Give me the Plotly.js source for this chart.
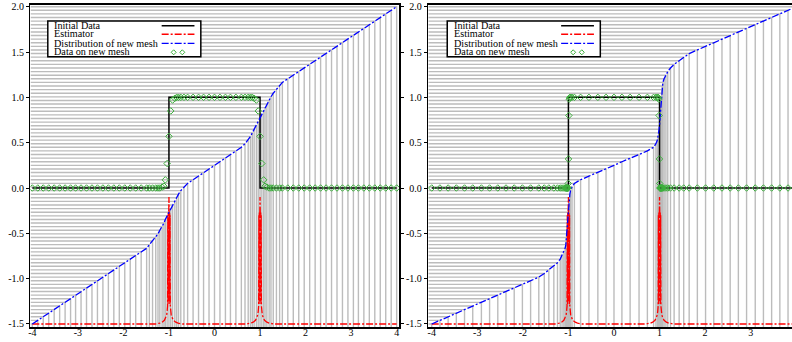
<!DOCTYPE html>
<html>
<head>
<meta charset="utf-8">
<script src="https://cdn.plot.ly/plotly-3.0.1.min.js"></script>
<style>html,body{margin:0;padding:0;background:#fff;}#chart{width:792px;height:342px;}</style>
</head>
<body>
<div id="chart"></div>
<script>
// computational coordinate of each mesh node (shared by both panels)
const xiNodes = [-1.5,-1.4602,-1.4205,-1.3807,-1.3409,-1.3011,-1.2614,-1.2216,-1.1818,-1.1420,-1.1023,-1.0625,-1.0227,-0.9830,-0.9432,-0.9034,-0.8636,-0.8239,-0.7841,-0.7443,-0.7045,-0.6648,-0.6250,-0.5852,-0.5455,-0.5057,-0.4659,-0.4261,-0.3864,-0.3466,-0.3068,-0.2670,-0.2273,-0.1875,-0.1477,-0.1080,-0.0682,-0.0284,0.0114,0.0511,0.0909,0.1307,0.1705,0.2102,0.2500,0.2898,0.3295,0.3693,0.4091,0.4489,0.4886,0.5284,0.5682,0.6080,0.6477,0.6875,0.7273,0.7670,0.8068,0.8466,0.8864,0.9261,0.9659,1.0057,1.0455,1.0852,1.1250,1.1648,1.2045,1.2443,1.2841,1.3239,1.3636,1.4034,1.4432,1.4830,1.5227,1.5625,1.6023,1.6420,1.6818,1.7216,1.7614,1.8011,1.8409,1.8807,1.9205,1.9602,2.0];

// physical mesh node positions, left panel
const meshXLeft = [-4.00,-3.88,-3.76,-3.64,-3.52,-3.40,-3.28,-3.16,-3.05,-2.93,-2.81,-2.69,-2.57,-2.45,-2.33,-2.21,-2.09,-1.97,-1.85,-1.73,-1.61,-1.49,-1.43,-1.36,-1.29,-1.24,-1.20,-1.15,-1.11,-1.08,-1.04,-1.00,-0.96,-0.92,-0.87,-0.83,-0.79,-0.74,-0.67,-0.59,-0.47,-0.35,-0.24,-0.12,0.00,0.12,0.24,0.35,0.47,0.59,0.67,0.74,0.79,0.83,0.87,0.92,0.96,1.00,1.04,1.08,1.11,1.15,1.20,1.24,1.29,1.36,1.43,1.49,1.61,1.73,1.85,1.97,2.09,2.21,2.33,2.45,2.57,2.69,2.81,2.93,3.05,3.16,3.28,3.40,3.52,3.64,3.76,3.88,4.00];
// physical mesh node positions, right panel
const meshXRight = [-4.00,-3.82,-3.64,-3.46,-3.28,-3.10,-2.91,-2.73,-2.55,-2.37,-2.19,-2.01,-1.83,-1.65,-1.53,-1.43,-1.32,-1.24,-1.18,-1.14,-1.10,-1.073,-1.057,-1.051,-1.045,-1.039,-1.033,-1.027,-1.021,-1.015,-1.012,-1.008,-1.004,-0.998,-0.990,-0.982,-0.969,-0.953,-0.921,-0.869,-0.733,-0.550,-0.354,-0.174,0.00,0.174,0.354,0.550,0.733,0.869,0.921,0.953,0.969,0.982,0.990,0.998,1.004,1.008,1.012,1.015,1.021,1.027,1.033,1.039,1.045,1.051,1.057,1.073,1.10,1.14,1.18,1.24,1.32,1.43,1.53,1.65,1.83,2.01,2.19,2.37,2.55,2.73,2.91,3.10,3.28,3.46,3.64,3.82,4.00];

// data on new mesh
const dataLeft = [0,0,0,0,0,0,0,0,0,0,0,0,0,0,0,0,0,0,0,0,0,0,0,0,0,0,0,0.01,0.02,0.09,0.27,0.57,0.85,0.97,0.99,1,1,1,1,1,1,1,1,1,1,1,1,1,1,1,1,1,1,1,0.99,0.97,0.85,0.57,0.27,0.09,0.02,0.01,0,0,0,0,0,0,0,0,0,0,0,0,0,0,0,0,0,0,0,0,0,0,0,0,0,0,0];
const dataRight = [0,0,0,0,0,0,0,0,0,0,0,0,0,0,0,0,0,0,0,0,0,0,0,0,0,0,0,0,0,0,0,0,0.05,0.32,0.80,0.98,1,1,1,1,1,1,1,1,1,1,1,1,1,1,1,1,1,0.98,0.80,0.32,0.05,0,0,0,0,0,0,0,0,0,0,0,0,0,0,0,0,0,0,0,0,0,0,0,0,0,0,0,0,0,0,0,0];

// initial data (step)
const initX = [-4, -1, -1, 1, 1, 4];
const initY = [0, 0, 1, 1, 0, 0];

// estimator
const estX = [-4.00,-1.30,-1.20,-1.15,-1.10,-1.07,-1.05,-1.04,-1.03,-1.025,-1.02,-1.015,-1.01,-1.005,-1.00,-0.995,-0.99,-0.985,-0.98,-0.975,-0.97,-0.96,-0.95,-0.93,-0.90,-0.85,-0.80,-0.70,0.70,0.80,0.85,0.90,0.93,0.95,0.96,0.97,0.975,0.98,0.985,0.99,0.995,1.00,1.005,1.01,1.015,1.02,1.025,1.03,1.04,1.05,1.07,1.10,1.15,1.20,1.30,4.00];
const estY = [-1.50,-1.50,-1.49,-1.48,-1.46,-1.43,-1.40,-1.36,-1.30,-0.30,-1.28,-0.27,-1.25,-0.28,-0.10,-0.28,-1.25,-0.27,-1.28,-0.30,-1.30,-1.36,-1.40,-1.43,-1.46,-1.48,-1.49,-1.50,-1.50,-1.49,-1.48,-1.46,-1.43,-1.40,-1.36,-1.30,-0.30,-1.28,-0.27,-1.25,-0.28,-0.10,-0.28,-1.25,-0.27,-1.28,-0.30,-1.30,-1.36,-1.40,-1.43,-1.46,-1.48,-1.49,-1.50,-1.50];

const xTickVals = [-4,-3,-2,-1,0,1,2,3,4];
const xTickText = ['-4','-3','-2','-1','0','1','2','3','4'];
const yTickVals = [-1.5,-1,-0.5,0,0.5,1,1.5,2];
const yTickText = ['-1.5','-1.0','-0.5','0.0','0.5','1.0','1.5','2.0'];

const legendLabels = ['Initial Data','Estimator','Distribution of new mesh','Data on new mesh'];

// ---------- styling / layout ----------
const FONT = 'Liberation Serif, Times New Roman, serif';
const rangeY = [-1.5386, 2.022];
const rangeXL = [-4.04, 4.055];
const rangeXR = [-4.075, 3.907];
const GRAY = '#bcbcbc';
const GREEN = 'rgb(60,175,60)';
const DASH = '7px,2px,2px,2px';

function meshLines(mx, xStart, yStart) {
  const gx = [], gy = [];
  for (let i = 0; i < mx.length; i++) {
    gx.push(xStart, mx[i], mx[i], null);
    gy.push(xiNodes[i], xiNodes[i], yStart, null);
  }
  return {gx, gy};
}

function panelTraces(mx, data, xa, ya, xStart) {
  const g = meshLines(mx, xStart, rangeY[0]);
  return [
    {x: g.gx, y: g.gy, xaxis: xa, yaxis: ya, mode: 'lines', line: {color: GRAY, width: 1.4}, hoverinfo: 'skip', showlegend: false},
    {x: estX, y: estY, xaxis: xa, yaxis: ya, mode: 'lines', line: {color: '#ff0000', width: 1.3, dash: DASH}, showlegend: false},
    {x: initX, y: initY, xaxis: xa, yaxis: ya, mode: 'lines', line: {color: '#000000', width: 1.5}, showlegend: false},
    {x: mx, y: xiNodes, xaxis: xa, yaxis: ya, mode: 'lines', line: {color: '#0000ff', width: 1.3, dash: DASH}, showlegend: false},
    {x: mx, y: data, xaxis: xa, yaxis: ya, mode: 'markers', marker: {symbol: 'diamond-open', size: 5, color: GREEN, line: {width: 1, color: GREEN}}, showlegend: false}
  ];
}

const traces = [].concat(
  panelTraces(meshXLeft, dataLeft, 'x', 'y', rangeXL[0]),
  panelTraces(meshXRight, dataRight, 'x2', 'y2', rangeXR[0])
);

// legend box drawn with shapes + annotations
const shapes = [], annotations = [];
function addLegend(xr, yr) {
  shapes.push({type: 'rect', xref: xr, yref: yr, x0: -3.66, x1: -0.30, y0: 1.4485, y1: 1.842, line: {color: '#000', width: 1.5}, fillcolor: '#ffffff', layer: 'above'});
  const rowsText = [1.795, 1.700, 1.598, 1.509];
  const rowsSample = [1.790, 1.696, 1.596, 1.497];
  legendLabels.forEach((t, k) => {
    annotations.push({xref: xr, yref: yr, x: -3.565, y: rowsText[k], text: t, showarrow: false, xanchor: 'left', yanchor: 'middle',
      font: {family: FONT, size: 10.2, color: '#000'}});
  });
  shapes.push({type: 'line', xref: xr, yref: yr, x0: -1.16, x1: -0.44, y0: rowsSample[0], y1: rowsSample[0], line: {color: '#000', width: 1.5}, layer: 'above'});
  shapes.push({type: 'line', xref: xr, yref: yr, x0: -1.16, x1: -0.44, y0: rowsSample[1], y1: rowsSample[1], line: {color: '#ff0000', width: 1.3, dash: DASH}, layer: 'above'});
  shapes.push({type: 'line', xref: xr, yref: yr, x0: -1.16, x1: -0.44, y0: rowsSample[2], y1: rowsSample[2], line: {color: '#0000ff', width: 1.3, dash: DASH}, layer: 'above'});
  const hx = 0.055, hy = 0.0276;
  [-0.896, -0.707].forEach(cx => {
    const cy = rowsSample[3];
    const p = 'M' + (cx - hx) + ',' + cy + ' L' + cx + ',' + (cy + hy) + ' L' + (cx + hx) + ',' + cy + ' L' + cx + ',' + (cy - hy) + ' Z';
    shapes.push({type: 'path', xref: xr, yref: yr, path: p, line: {color: GREEN, width: 1}, layer: 'above'});
  });
}
addLegend('x', 'y');
addLegend('x2', 'y2');

const tickFont = {family: FONT, size: 10, color: '#000'};
function xAxis(dom, rng) {
  return {domain: dom, range: rng, showgrid: false, zeroline: false, showline: true, linecolor: '#000', linewidth: 1.5, mirror: true,
    ticks: '', ticklabelstandoff: -5, tickmode: 'array', tickvals: xTickVals, ticktext: xTickText, tickfont: tickFont, fixedrange: true};
}
function topAxis(over, anchor, rng) {
  return {overlaying: over, anchor: anchor, side: 'top', range: rng, showgrid: false, zeroline: false, showline: false,
    ticks: 'outside', ticklen: 3, tickwidth: 1, tickcolor: '#000', tickmode: 'array', tickvals: xTickVals, showticklabels: false};
}
function yAxis(anchor, mirror) {
  return {domain: [0.0424, 0.98626], range: rangeY, anchor: anchor, showgrid: false, zeroline: false, showline: true, linecolor: '#000', linewidth: 1.5, mirror: mirror,
    ticks: 'outside', ticklen: 3, tickwidth: 1, tickcolor: '#000', tickmode: 'array', tickvals: yTickVals, ticktext: yTickText, tickfont: tickFont};
}

const layout = {
  width: 792, height: 342,
  margin: {l: 0, r: 0, t: 0, b: 0, pad: 0},
  paper_bgcolor: '#ffffff', plot_bgcolor: '#ffffff',
  showlegend: false,
  xaxis: Object.assign(xAxis([0.0385, 0.5040], rangeXL), {anchor: 'y'}),
  yaxis: yAxis('x', 'ticks'),
  xaxis2: Object.assign(xAxis([0.5408, 1.0], rangeXR), {anchor: 'y2'}),
  yaxis2: yAxis('x2', false),
  xaxis3: topAxis('x', 'y', rangeXL),
  xaxis4: topAxis('x2', 'y2', rangeXR),
  shapes: shapes,
  annotations: annotations
};

Plotly.newPlot('chart', traces, layout, {staticPlot: true, displayModeBar: false});
</script>
</body>
</html>
